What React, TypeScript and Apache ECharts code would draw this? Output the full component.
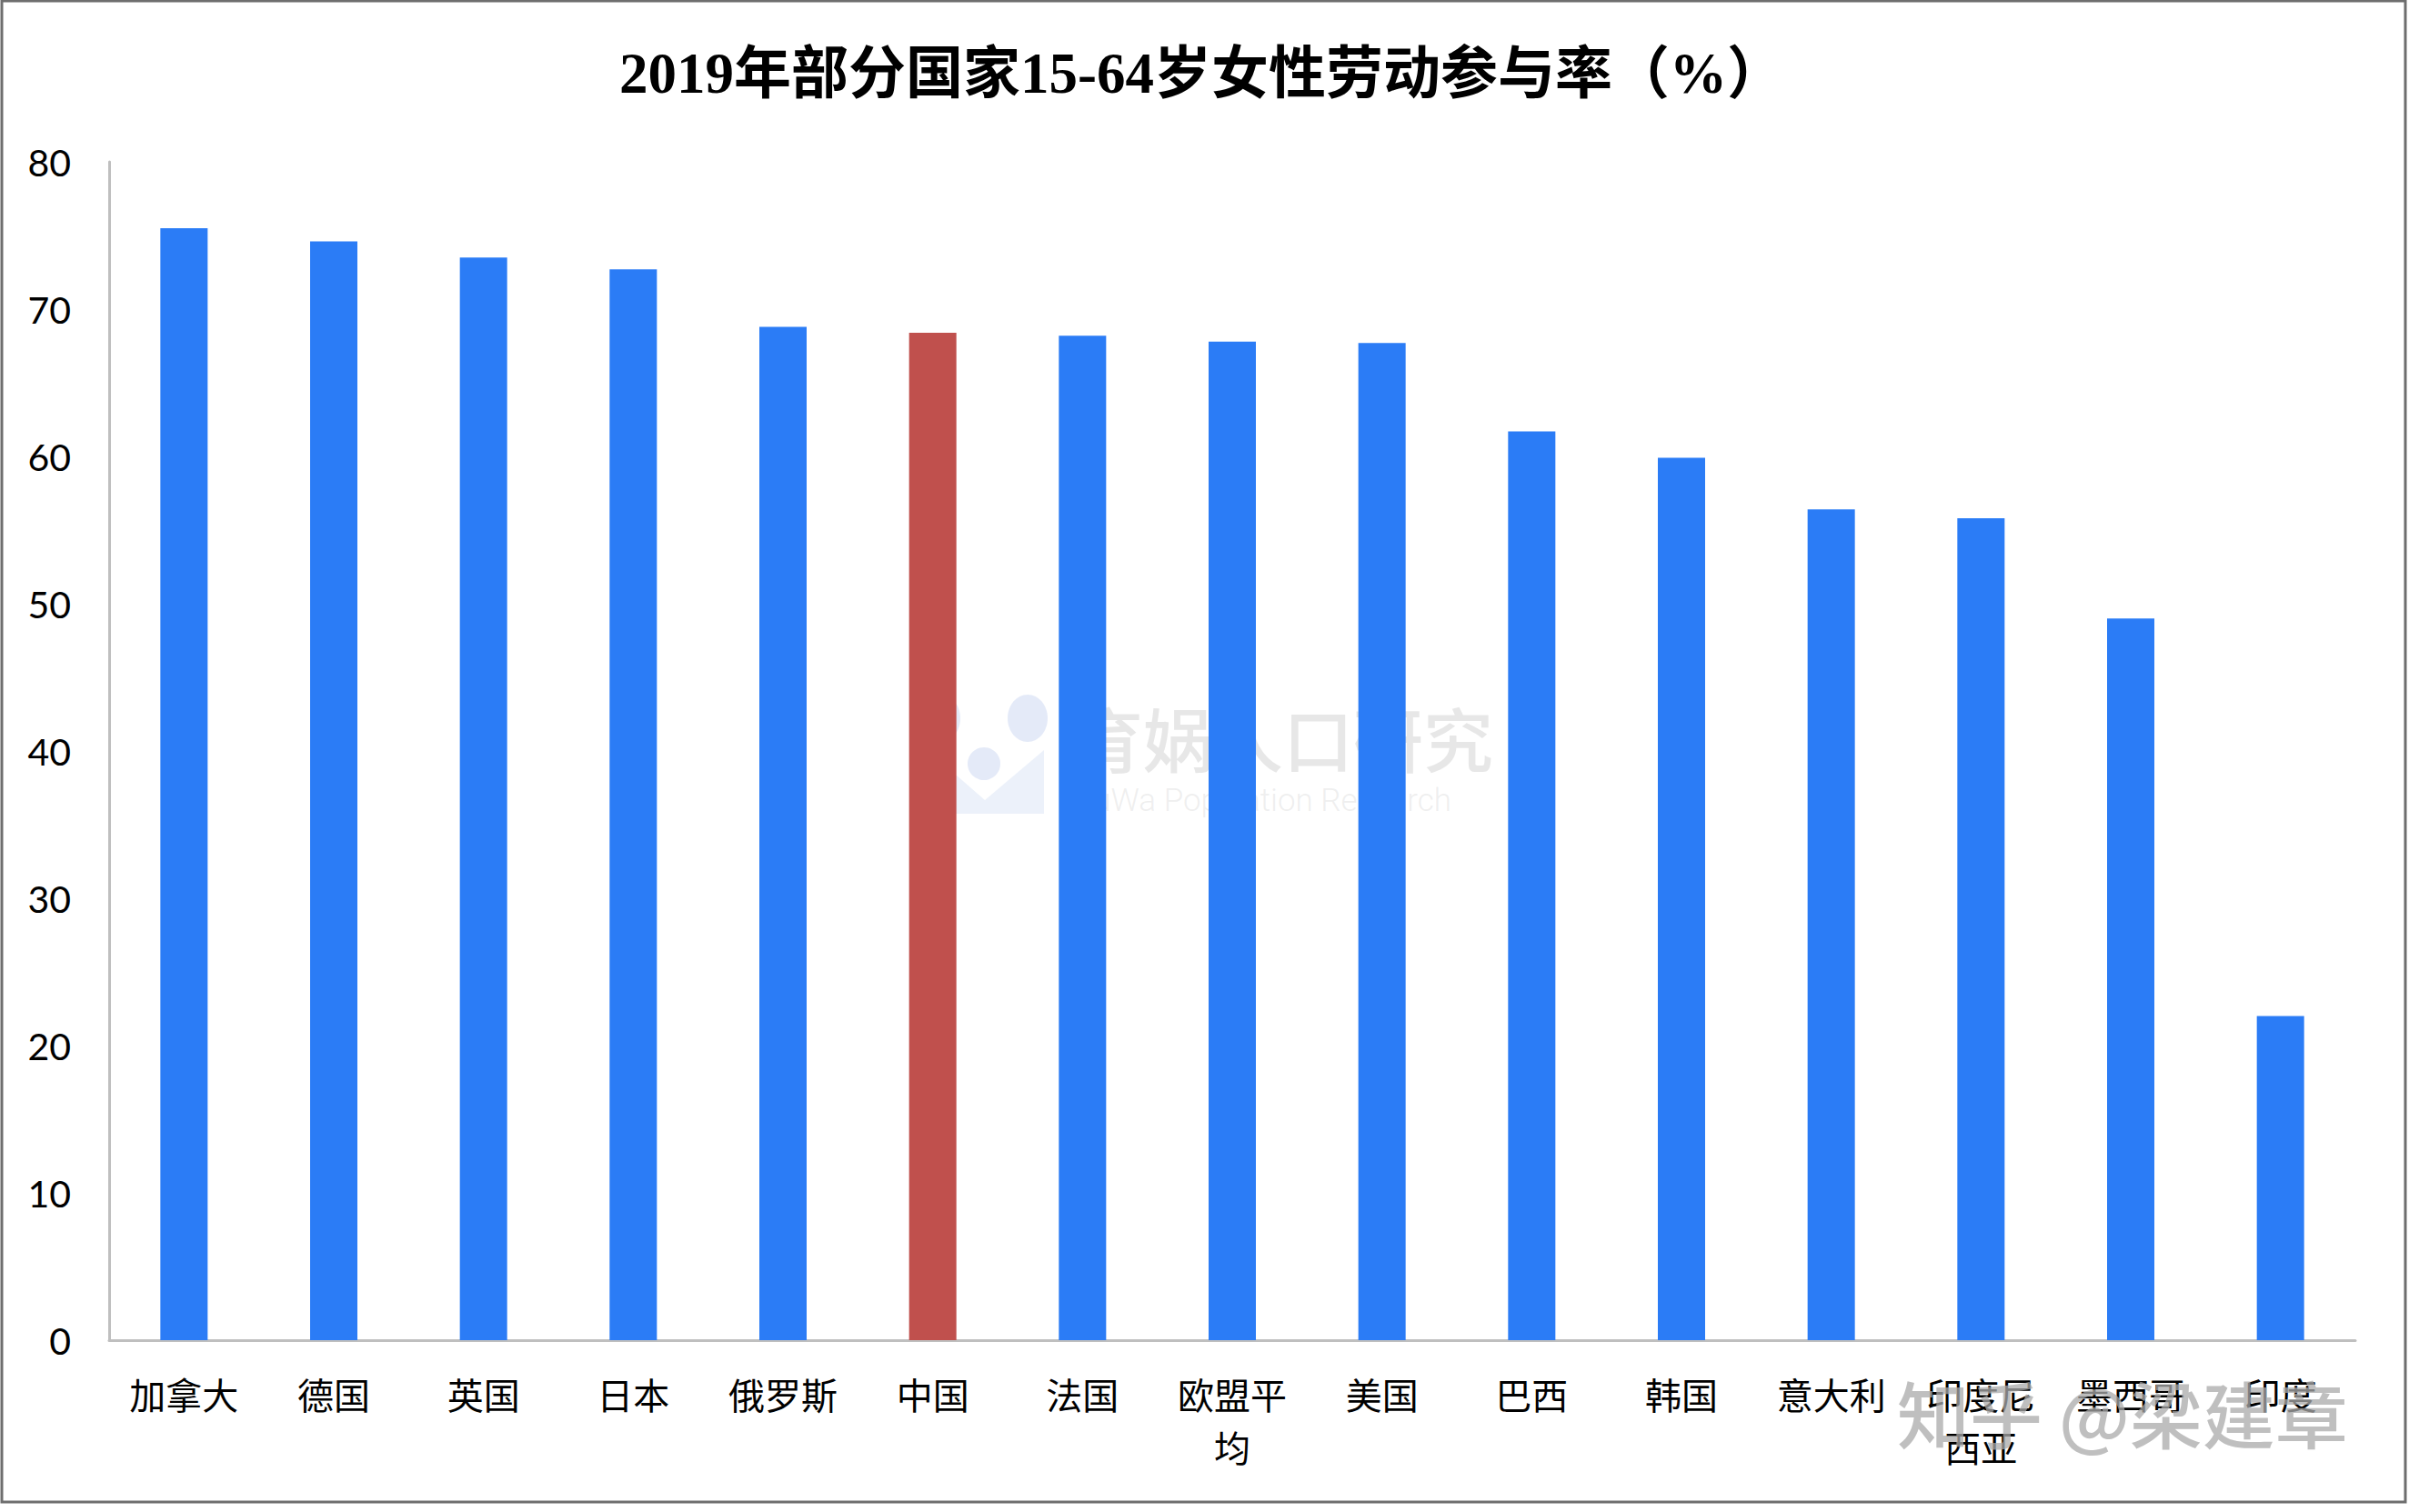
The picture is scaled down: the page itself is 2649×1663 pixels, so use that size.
import React, { useEffect, useRef } from "react";
import * as echarts from "echarts";

const categories = ["加拿大", "德国", "英国", "日本", "俄罗斯", "中国", "法国", "欧盟平均", "美国", "巴西", "韩国", "意大利", "印度尼西亚", "墨西哥", "印度"];
const values = [75.5, 74.6, 73.5, 72.7, 68.8, 68.4, 68.2, 67.8, 67.7, 61.7, 59.9, 56.4, 55.8, 49.0, 22.0];
const highlighted = "中国";
const yMin = 0;
const yMax = 80;
const yStep = 10;
const titleText = "2019年部分国家15-64岁女性劳动参与率（%）";
const watermarkCn = "育娲人口研究";
const watermarkEn = "YuWa Population Research";
const zhihuMark = "知乎 @梁建章";

const W = 2649;
const H = 1663;

export default function App() {
  const ref = useRef<HTMLDivElement>(null);
  useEffect(() => {
    if (!ref.current) return;
    const chart = echarts.init(ref.current, null, { renderer: "svg" });
    const cjk = "'Noto Sans CJK SC', sans-serif";
    chart.setOption({
      animation: false,
      backgroundColor: "#ffffff",
      title: {
        text: titleText,
        left: 676,
        top: 44,
        textStyle: {
          fontSize: 63,
          fontWeight: "bold",
          color: "#000000",
          fontFamily: "'Liberation Serif', 'Noto Sans CJK SC', serif",
        },
      },
      grid: { left: 120, right: 59, top: 178, bottom: 189, containLabel: false },
      xAxis: {
        type: "category",
        data: categories,
        axisLine: { show: true, lineStyle: { color: "#bfbfbf", width: 3 } },
        axisTick: { show: false },
        axisLabel: {
          interval: 0,
          margin: 30,
          fontSize: 40,
          lineHeight: 58,
          color: "#000000",
          fontFamily: cjk,
          formatter: (v: string) => (v.length > 3 ? v.slice(0, 3) + "\n" + v.slice(3) : v),
        },
      },
      yAxis: {
        type: "value",
        min: yMin,
        max: yMax,
        interval: yStep,
        axisLine: { show: true, lineStyle: { color: "#bfbfbf", width: 3 } },
        axisTick: { show: false },
        splitLine: { show: false },
        axisLabel: {
          margin: 42,
          fontSize: 41,
          color: "#000000",
          fontFamily: "Lato, 'Open Sans', sans-serif",
        },
      },
      series: [
        {
          type: "bar",
          barWidth: 52,
          data: values.map((v, i) => ({
            value: v,
            itemStyle: { color: categories[i] === highlighted ? "#c0504d" : "#2b7cf6" },
          })),
        },
      ],
      graphic: [
        {
          type: "rect",
          z: 200,
          shape: { x: 2, y: 1, width: 2643, height: 1651 },
          style: { fill: "none", stroke: "#6e6e6e", lineWidth: 3 },
        },
        {
          type: "group",
          z: 150,
          children: [
            { type: "ellipse", shape: { cx: 1038, cy: 790, rx: 18, ry: 24 }, style: { fill: "#c9d6f2", opacity: 0.5 } },
            { type: "ellipse", shape: { cx: 1130, cy: 790, rx: 22, ry: 26 }, style: { fill: "#c9d6f2", opacity: 0.5 } },
            {
              type: "polygon",
              shape: { points: [[1020, 825], [1083, 880], [1148, 825], [1148, 895], [1020, 895]] },
              style: { fill: "#c9d6f2", opacity: 0.35 },
            },
            { type: "circle", shape: { cx: 1082, cy: 840, r: 18 }, style: { fill: "#c9d6f2", opacity: 0.5 } },
            {
              type: "text",
              x: 1180,
              y: 810,
              style: {
                text: watermarkCn,
                font: "500 77px 'Noto Sans CJK SC', sans-serif",
                fill: "rgba(180,180,180,0.32)",
                textVerticalAlign: "middle",
              },
            },
            {
              type: "text",
              x: 1182,
              y: 880,
              style: {
                text: watermarkEn,
                font: "300 35px Roboto, sans-serif",
                fill: "rgba(200,200,200,0.3)",
                textVerticalAlign: "middle",
              },
            },
          ],
        },
        {
          type: "text",
          z: 160,
          x: 2086,
          y: 1552,
          style: {
            text: zhihuMark,
            font: "500 80px 'Noto Sans CJK SC', sans-serif",
            fill: "rgba(170,170,170,0.75)",
            textVerticalAlign: "middle",
          },
        },
      ],
    });
    return () => chart.dispose();
  }, []);
  return (
    <div
      ref={ref}
      style={{ position: "absolute", left: 0, top: 0, width: W, height: H, background: "#fff" }}
    />
  );
}
